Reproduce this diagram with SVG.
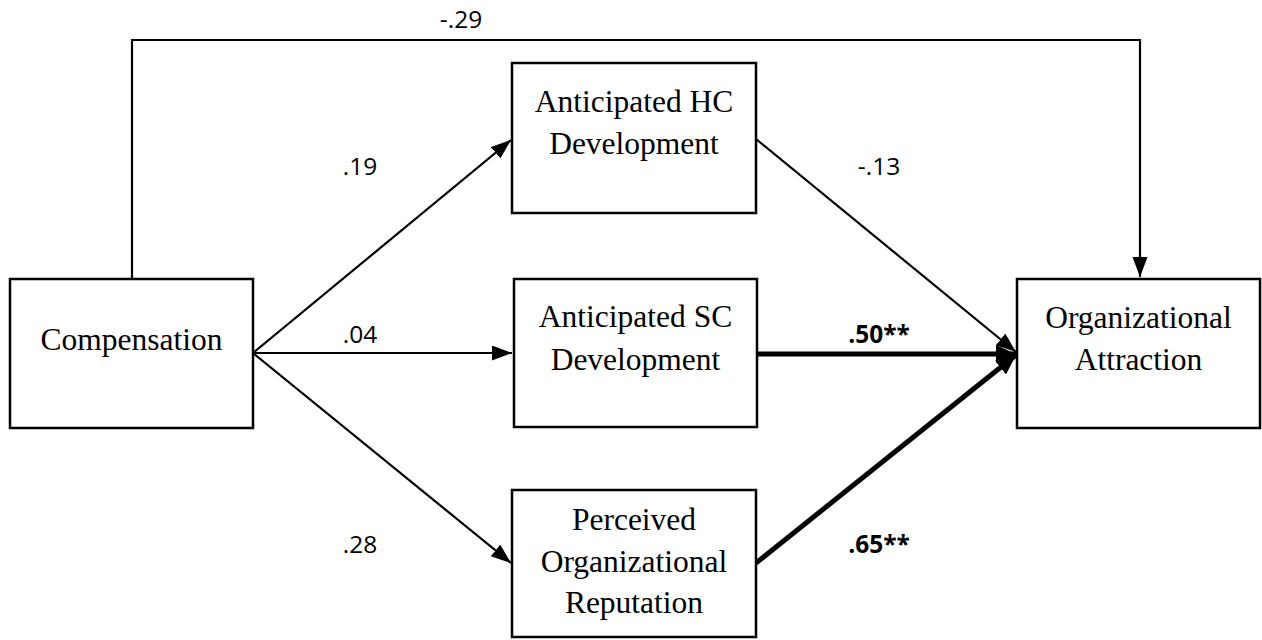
<svg xmlns="http://www.w3.org/2000/svg" width="1262" height="640" viewBox="0 0 1262 640">
<defs>
<style>
.box{fill:#fff;stroke:#000;stroke-width:2.5}
.nt{font-family:"Liberation Serif","Times New Roman",serif;font-size:31.5px;fill:#000;text-anchor:middle}
.lb{font-family:"Open Sans","Liberation Sans",sans-serif;font-size:24.5px;fill:#000;text-anchor:middle}
.lbb{font-family:"Open Sans","Liberation Sans",sans-serif;font-size:24.5px;font-weight:bold;fill:#000;text-anchor:middle}
.thin{fill:none;stroke:#000;stroke-width:2.2}
.thick{fill:none;stroke:#000;stroke-width:5}
</style>
<marker id="ah" markerUnits="userSpaceOnUse" markerWidth="22" markerHeight="16" refX="20" refY="7.5" orient="auto">
<path d="M0,0 L20,7.5 L0,15 Z" fill="#000"/>
</marker>
<marker id="ahb" markerUnits="userSpaceOnUse" markerWidth="22" markerHeight="20" refX="20" refY="9" orient="auto">
<path d="M0,0 L20,9 L0,18 Z" fill="#000"/>
</marker>
</defs>
<rect width="1262" height="640" fill="#fff"/>
<g id="connectors">
<path class="thin" d="M132,279 V40 H1140 V277" marker-end="url(#ah)"/>
<line class="thin" x1="253" y1="353" x2="511" y2="140" marker-end="url(#ah)"/>
<line class="thin" x1="253" y1="353" x2="512" y2="353" marker-end="url(#ah)"/>
<line class="thin" x1="253" y1="353" x2="511" y2="563" marker-end="url(#ah)"/>
<line class="thin" x1="756" y1="139" x2="1016" y2="352" marker-end="url(#ah)"/>
<line class="thick" x1="757" y1="354" x2="1016" y2="354" marker-end="url(#ahb)"/>
<line class="thick" x1="756" y1="563" x2="1016" y2="355" marker-end="url(#ahb)"/>
<text class="lb" x="461" y="28">-.29</text>
<text class="lb" x="360" y="175">.19</text>
<text class="lb" x="360" y="343">.04</text>
<text class="lb" x="360" y="553">.28</text>
<text class="lb" x="879" y="175">-.13</text>
<text class="lbb" x="879" y="343">.50**</text>
<text class="lbb" x="879" y="553">.65**</text>
</g>
<g id="compensation">
<rect class="box" x="10" y="279" width="243" height="149"/>
<text class="nt" x="131.5" y="350">Compensation</text>
</g>
<g id="hc">
<rect class="box" x="512" y="63" width="244" height="150"/>
<text class="nt" x="634" y="112">Anticipated HC</text>
<text class="nt" x="634" y="154">Development</text>
</g>
<g id="sc">
<rect class="box" x="514" y="279" width="243" height="148"/>
<text class="nt" x="635.5" y="327">Anticipated SC</text>
<text class="nt" x="635.5" y="370">Development</text>
</g>
<g id="reputation">
<rect class="box" x="512" y="490" width="244" height="147"/>
<text class="nt" x="634" y="530">Perceived</text>
<text class="nt" x="634" y="572">Organizational</text>
<text class="nt" x="634" y="613">Reputation</text>
</g>
<g id="attraction">
<rect class="box" x="1017" y="279" width="243" height="149"/>
<text class="nt" x="1138.5" y="328">Organizational</text>
<text class="nt" x="1138.5" y="370">Attraction</text>
</g>
</svg>
